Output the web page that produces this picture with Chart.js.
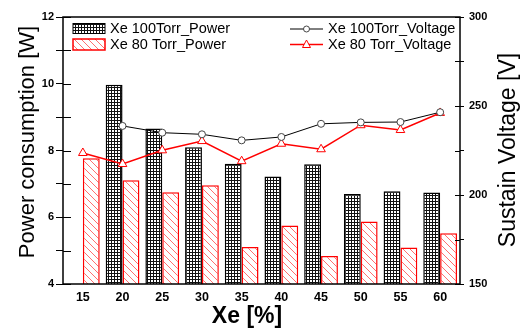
<!DOCTYPE html>
<html>
<head>
<meta charset="utf-8">
<script src="https://cdn.jsdelivr.net/npm/chart.js@4.4.0/dist/chart.umd.min.js"></script>
<style>
  body { margin: 0; background: #fff; }
</style>
</head>
<body>
<canvas id="powerChart" width="529" height="329"></canvas>
<script>
const xeLabels = ["15", "20", "25", "30", "35", "40", "45", "50", "55", "60"];
const power100 = [null, 9.97, 8.66, 8.1, 7.6, 7.22, 7.59, 6.7, 6.78, 6.74];
const power80 = [7.77, 7.11, 6.75, 6.96, 5.11, 5.75, 4.84, 5.87, 5.09, 5.52];
const voltage100 = [null, 238.8, 235.0, 234.1, 230.7, 232.6, 240.0, 240.8, 241.0, 246.5];
const voltage80 = [223.6, 217.4, 225.1, 230.3, 219.0, 228.8, 225.7, 239.2, 236.5, 246.1];
const powerTickLabels = [4, 6, 8, 10, 12];
const voltageTickLabels = [150, 200, 250, 300];

const FONT = "'Liberation Sans', Arial, sans-serif";
const canvas = document.getElementById("powerChart");
const ctx = canvas.getContext("2d");

function makeGrid() {
    const c = document.createElement("canvas");
    c.width = 3; c.height = 3;
    const g = c.getContext("2d");
    g.fillStyle = "#fff";
    g.fillRect(0, 0, 3, 3);
    g.fillStyle = "#111";
    g.fillRect(0, 0, 3, 1);
    g.fillRect(0, 0, 1, 3);
    return ctx.createPattern(c, "repeat");
}

function makeHatch() {
    const c = document.createElement("canvas");
    c.width = 7; c.height = 7;
    const g = c.getContext("2d");
    g.fillStyle = "#fff";
    g.fillRect(0, 0, 7, 7);
    g.fillStyle = "#ff7070";
    for (let i = 0; i < 7; i++) g.fillRect(i, i, 1, 1);
    return ctx.createPattern(c, "repeat");
}

const gridFill = makeGrid();
const hatchFill = makeHatch();

// frame, inner ticks, legend and axis titles
const decorations = {
    id: "decorations",
    afterDraw(chart) {
        const c = chart.ctx;
        const a = chart.chartArea;
        const y = chart.scales.y;
        const y2 = chart.scales.y2;
        c.save();

        c.strokeStyle = "#000";
        c.lineWidth = 1.5;
        c.strokeRect(a.left, a.top, a.right - a.left, a.bottom - a.top);

        c.lineWidth = 1;
        c.beginPath();
        y.ticks.forEach(t => {
            const py = Math.round(y.getPixelForValue(t.value)) + 0.5;
            c.moveTo(a.left, py);
            c.lineTo(a.left + 8, py);
        });
        y2.ticks.forEach(t => {
            const py = Math.round(y2.getPixelForValue(t.value)) + 0.5;
            c.moveTo(a.right, py);
            c.lineTo(a.right - 5, py);
        });
        c.stroke();

        // legend
        const ds = chart.data.datasets;
        c.font = "14.5px " + FONT;
        c.fillStyle = "#000";
        c.textBaseline = "middle";

        c.fillStyle = gridFill;
        c.fillRect(73, 23.5, 32, 10);
        c.strokeStyle = "#000";
        c.lineWidth = 1;
        c.strokeRect(73, 23.5, 32, 10);

        c.fillStyle = hatchFill;
        c.fillRect(73, 39, 32, 11);
        c.strokeStyle = "#ff0000";
        c.lineWidth = 1.5;
        c.strokeRect(73, 39, 32, 11);

        c.fillStyle = "#000";
        c.fillText(ds[0].label, 110, 29);
        c.fillText(ds[1].label, 110, 44.5);

        c.strokeStyle = "#000";
        c.lineWidth = 1;
        c.beginPath();
        c.moveTo(290, 29); c.lineTo(323, 29);
        c.stroke();
        c.fillStyle = "#fff";
        c.strokeStyle = "#444";
        c.beginPath();
        c.arc(306.5, 29, 3, 0, Math.PI * 2);
        c.fill(); c.stroke();

        c.strokeStyle = "#ff0000";
        c.lineWidth = 1.5;
        c.beginPath();
        c.moveTo(290, 44.5); c.lineTo(323, 44.5);
        c.stroke();
        c.lineWidth = 1;
        c.beginPath();
        c.moveTo(306.5, 40); c.lineTo(310.5, 47.5); c.lineTo(302.5, 47.5); c.closePath();
        c.fill(); c.stroke();

        c.fillStyle = "#000";
        c.fillText(ds[2].label, 328, 29);
        c.fillText(ds[3].label, 328, 44.5);

        // axis titles
        c.textAlign = "center";
        c.font = "22px " + FONT;
        c.save();
        c.translate(27.5, 142);
        c.rotate(-Math.PI / 2);
        c.fillText("Power consumption [W]", 0, 0);
        c.restore();

        c.font = "23px " + FONT;
        c.save();
        c.translate(509, 150);
        c.rotate(-Math.PI / 2);
        c.fillText("Sustain Voltage [V]", 0, 0);
        c.restore();

        c.font = "bold 23px " + FONT;
        c.fillText("Xe [%]", 247, 317);

        c.restore();
    }
};

new Chart(ctx, {
    type: "bar",
    data: {
        labels: xeLabels,
        datasets: [
            {
                label: "Xe 100Torr_Power",
                data: power100,
                yAxisID: "y",
                backgroundColor: gridFill,
                borderColor: "#000",
                borderWidth: 1.5,
                categoryPercentage: 0.85,
                barPercentage: 1.0,
                order: 2
            },
            {
                label: "Xe 80 Torr_Power",
                data: power80,
                yAxisID: "y",
                backgroundColor: hatchFill,
                borderColor: "#ff0000",
                borderWidth: 1.5,
                categoryPercentage: 0.85,
                barPercentage: 1.0,
                order: 2
            },
            {
                type: "line",
                label: "Xe 100Torr_Voltage",
                data: voltage100,
                yAxisID: "y2",
                borderColor: "#000",
                borderWidth: 1,
                pointStyle: "circle",
                pointRadius: 3.5,
                pointBackgroundColor: "#fff",
                pointBorderColor: "#444",
                pointBorderWidth: 1,
                spanGaps: false,
                order: 0
            },
            {
                type: "line",
                label: "Xe 80 Torr_Voltage",
                data: voltage80,
                yAxisID: "y2",
                borderColor: "#ff0000",
                borderWidth: 1.5,
                pointStyle: "triangle",
                pointRadius: 5,
                pointBackgroundColor: "#fff",
                pointBorderColor: "#ff0000",
                pointBorderWidth: 1,
                order: 0
            }
        ]
    },
    options: {
        responsive: false,
        animation: false,
        layout: { padding: { top: 17, left: 0, right: 0, bottom: 0 } },
        plugins: {
            legend: { display: false },
            tooltip: { enabled: false }
        },
        scales: {
            x: {
                grid: { display: false, drawTicks: false },
                border: { display: false },
                ticks: { color: "#000", font: { family: FONT, size: 12.5, weight: "bold" }, padding: 6 },
                afterFit: s => { s.height = 45; }
            },
            y: {
                position: "left",
                min: 4,
                max: 12,
                grid: { drawOnChartArea: false, tickLength: 7, color: "#000" },
                border: { display: false },
                ticks: {
                    stepSize: 1,
                    autoSkip: false,
                    color: "#000",
                    padding: 2,
                    font: { family: FONT, size: 11, weight: "bold" },
                    callback: v => powerTickLabels.includes(v) ? v : ""
                },
                afterFit: s => { s.width = 63; }
            },
            y2: {
                position: "right",
                min: 150,
                max: 300,
                grid: { drawOnChartArea: false, tickLength: 4, color: "#000" },
                border: { display: false },
                ticks: {
                    stepSize: 25,
                    autoSkip: false,
                    color: "#000",
                    padding: 5,
                    font: { family: FONT, size: 11, weight: "bold" },
                    callback: v => voltageTickLabels.includes(v) ? v : ""
                },
                afterFit: s => { s.width = 69; }
            }
        }
    },
    plugins: [decorations]
});
</script>
</body>
</html>
